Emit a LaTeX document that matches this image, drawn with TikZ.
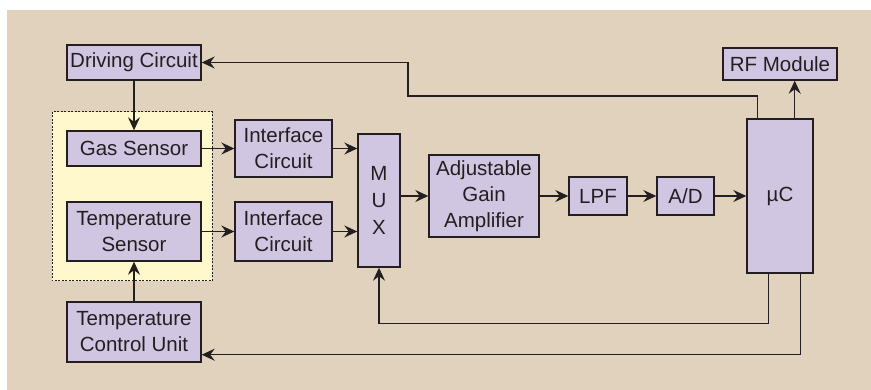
\documentclass[tikz,border=0pt]{standalone}
\usepackage{fontspec}
\setmainfont{Liberation Sans}
\usetikzlibrary{arrows.meta,calc}
\definecolor{bg}{HTML}{E0D2BC}
\definecolor{boxfill}{HTML}{D1C6E1}
\definecolor{yel}{HTML}{FFF8CC}
\definecolor{ink}{HTML}{231F20}
\begin{document}
\begin{tikzpicture}[x=1pt,y=-1pt,
  box/.style 2 args={draw=ink, line width=1.4pt, fill=boxfill, text=ink,
    font=\fontsize{20.5}{26}\selectfont, align=center, inner sep=0pt,
    minimum width=#1pt, minimum height=#2pt},
  arr/.style={draw=ink, line width=1.2pt, -{Stealth[length=13pt,width=12pt,inset=4.5pt]}}]
\useasboundingbox (0,0) rectangle (871,390);
\fill[white] (0,0) rectangle (871,390);
\fill[bg] (7,10) rectangle (871,390);
\draw[draw=ink, line width=1pt, dash pattern=on 2pt off 1.5pt, fill=yel] (52,112) rectangle (212,281);
% nodes
\node[box={134}{35}] (drv) at (134,62.5) {Driving Circuit};
\node[box={134}{35}] (gas) at (134,148.5) {Gas Sensor};
\node[box={134}{59}] (ts) at (134,231.5) {Temperature\\Sensor};
\node[box={134}{60}] (tcu) at (134,332) {Temperature\\Control Unit};
\node[box={97}{57}] (if1) at (283.5,148.5) {Interface\\Circuit};
\node[box={97}{59}] (if2) at (283.5,231.5) {Interface\\Circuit};
\node[box={42}{133}, font=\fontsize{20.5}{27}\selectfont] (mux) at (379,200.5) {M\\U\\X};
\node[box={110}{82}] (aga) at (484,196) {Adjustable\\Gain\\Amplifier};
\node[box={58}{38}] (lpf) at (598,196) {LPF};
\node[box={57}{38}] (ad) at (685.5,196) {A/D};
\node[box={66}{154}] (uc) at (780,196) {µC};
\node[box={114}{32}] (rf) at (780,64) {RF Module};
% connectors
\draw[arr] (drv) -- (gas);
\draw[arr] (gas.east) -- (if1.west);
\draw[arr] (if1.east) -- (if1.east -| mux.west);
\draw[arr] (ts.east) -- (if2.west);
\draw[arr] (if2.east) -- (if2.east -| mux.west);
\draw[arr] (aga.west -| mux.east) -- (aga.west);
\draw[arr] (aga) -- (lpf);
\draw[arr] (lpf) -- (ad);
\draw[arr] (ad) -- (uc);
\draw[arr] (tcu) -- (ts);
\draw[arr] ($(uc.north west)+(11,0)$) |- (408,96) |- (drv.east);
\draw[arr] ($(uc.north east)+(-19,0)$) coordinate (p) -- (p |- rf.south);
\draw[arr] ($(uc.south west)+(22,0)$) -- ++(0,50) -| (mux.south);
\draw[arr] ($(uc.south east)+(-13,0)$) -- ++(0,81) coordinate (q) -- (q -| tcu.east);
\end{tikzpicture}
\end{document}
